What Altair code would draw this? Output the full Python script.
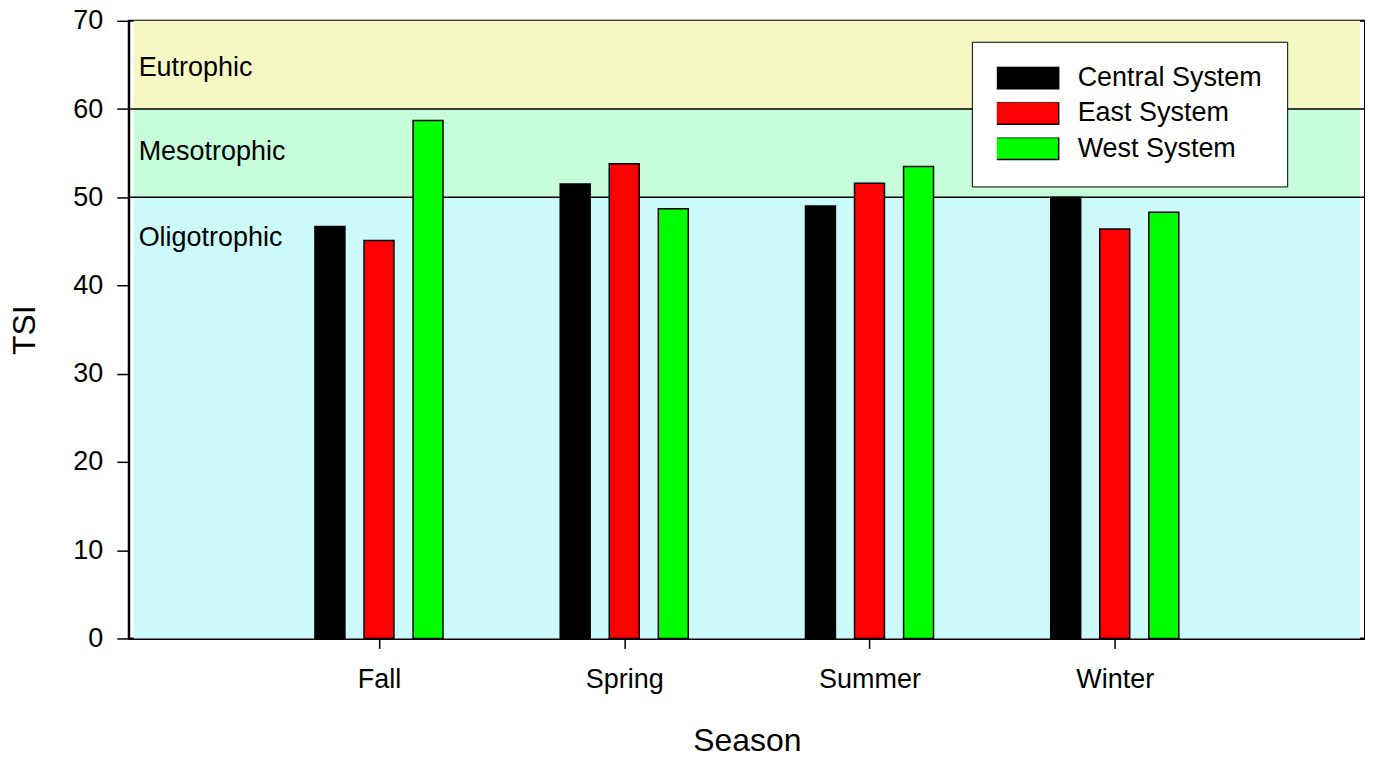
import altair as alt
import pandas as pd

seasons = ["Fall", "Spring", "Summer", "Winter"]
systems = ["Central System", "East System", "West System"]
central = [46.7, 51.5, 49.0, 50.0]
east = [45.1, 53.8, 51.6, 46.4]
west = [58.7, 48.7, 53.5, 48.3]
colors = ["#000000", "#FF0000", "#00FF00"]

band_names = ["Oligotrophic", "Mesotrophic", "Eutrophic"]
band_lo = [0, 50, 60]
band_hi = [50, 60, 70]
band_colors = ["#CCFAFA", "#C6FCDA", "#F6F8C3"]
band_label_y = [45.4, 55.1, 64.6]
boundaries = [50, 60]

offsets = [-0.2, 0.0, 0.2]
rows = []
for si, s in enumerate(seasons):
    for k, (sysname, vals) in enumerate(zip(systems, [central, east, west])):
        rows.append({"season": s, "system": sysname, "x": si + 1 + offsets[k], "TSI": vals[si]})
df = pd.DataFrame(rows)

bands = pd.DataFrame({"name": band_names, "lo": band_lo, "hi": band_hi,
                      "x0": [0] * 3, "x1": [5] * 3, "ly": band_label_y, "lx": [0.02] * 3})
lines = pd.DataFrame({"y": boundaries})

label_expr = "{1:'Fall',2:'Spring',3:'Summer',4:'Winter'}[datum.value]"
xscale = alt.Scale(domain=[0, 5], nice=False, zero=False)
yscale = alt.Scale(domain=[0, 70], nice=False)

FONT = "Liberation Sans"

bg = alt.Chart(bands).mark_rect().encode(
    x=alt.X("x0:Q", scale=xscale,
            axis=alt.Axis(values=[1, 2, 3, 4], labelExpr=label_expr, title="Season",
                          grid=False, tickSize=10, labelPadding=18, labelFontSize=27,
                          titleFontSize=32, titleFontWeight="normal", titleY=102,
                          titleBaseline="middle", domainColor="black", tickColor="black",
                          labelColor="black", titleColor="black", labelFont=FONT, titleFont=FONT,
                          domainWidth=2, tickWidth=1.5)),
    x2="x1:Q",
    y=alt.Y("lo:Q", scale=yscale,
            axis=alt.Axis(values=[0, 10, 20, 30, 40, 50, 60, 70], title="TSI", grid=False,
                          tickSize=12, labelPadding=14, labelFontSize=27, titleFontSize=32,
                          titleFontWeight="normal", titleX=-104, titleY=309.5,
                          titleBaseline="middle", domainColor="black", tickColor="black",
                          labelColor="black", titleColor="black", labelFont=FONT, titleFont=FONT,
                          domainWidth=2, tickWidth=1.5)),
    y2="hi:Q",
    color=alt.Color("name:N", scale=alt.Scale(domain=band_names, range=band_colors), legend=None),
)

rules = alt.Chart(lines).mark_rule(color="black", strokeWidth=1.5).encode(
    y=alt.Y("y:Q", scale=yscale),
)

labels = alt.Chart(bands).mark_text(align="left", baseline="middle", fontSize=27, font=FONT,
                                    color="black").encode(
    x=alt.X("lx:Q", scale=xscale),
    y=alt.Y("ly:Q", scale=yscale),
    text="name:N",
)

bars = alt.Chart(df).mark_bar(width=30, stroke="black", strokeWidth=1.5).encode(
    x=alt.X("x:Q", scale=xscale),
    y=alt.Y("TSI:Q", scale=yscale),
    fill=alt.Fill("system:N", scale=alt.Scale(domain=systems, range=colors),
                  legend=alt.Legend(title=None, orient="none", legendX=845, legendY=21,
                                    symbolType="M-1,-0.33H1V0.33H-1Z", symbolSize=4489,
                                    symbolStrokeColor="black", symbolStrokeWidth=1.5,
                                    clipHeight=22, rowPadding=8.5, padding=25,
                                    symbolOffset=-6, labelOffset=18, labelFontSize=27,
                                    labelFont=FONT, labelColor="black",
                                    fillColor="white", strokeColor="black",
                                    labelLimit=400)),
)

chart = alt.layer(bg, rules, labels, bars).resolve_scale(color="independent").properties(
    width=1239, height=619,
    autosize=alt.AutoSizeParams(type="none"),
    padding={"left": 121, "top": 12, "right": 0, "bottom": 128},
).configure_view(stroke="black", strokeWidth=2)

chart.save("out.html", embed_options={"renderer": "svg", "actions": False})
